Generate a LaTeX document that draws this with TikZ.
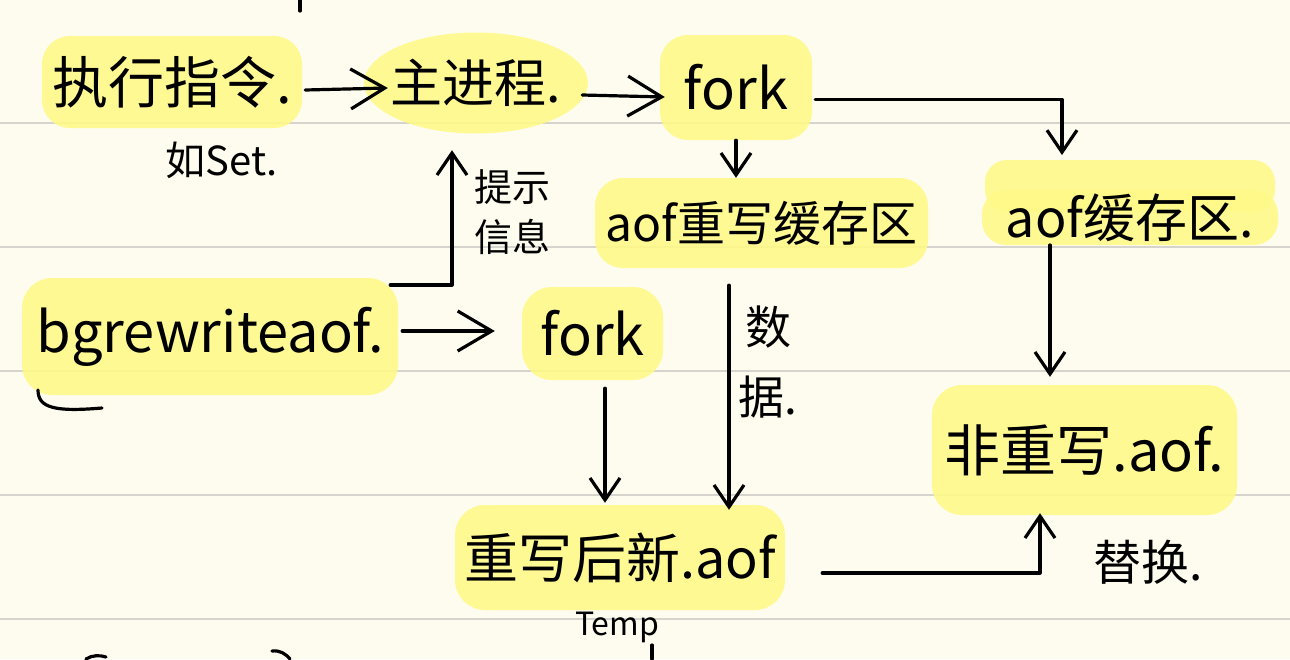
\documentclass[tikz,border=0pt]{standalone}
\usepackage{fontspec}
\setmainfont{Noto Sans CJK SC}
\usetikzlibrary{arrows.meta,shapes.geometric}
\definecolor{paper}{RGB}{254,252,239}
\definecolor{rulecol}{RGB}{214,212,204}
\definecolor{hl}{RGB}{255,249,135}
\begin{document}
\begin{tikzpicture}[x=1pt,y=-1pt,
  box/.style={fill=hl, fill opacity=0.88, text opacity=1, rounded corners=28pt, inner sep=0pt},
  lbl/.style={inner sep=0pt, align=center},
  conn/.style={line width=3.2pt, line cap=round, line join=round},
  big/.style={conn, -{Straight Barb[length=34pt,width=40pt]}},
  small/.style={conn, -{Straight Barb[length=22pt,width=30pt]}},
  ruled/.style={rulecol, line width=2pt},
  stroke/.style={line width=3.2pt, line cap=round}
]
\fill[paper] (0,0) rectangle (1290,659);
\useasboundingbox (0,0) rectangle (1290,659);
\foreach \yy in {123,247,371,495,619} \draw[ruled] (0,\yy) -- (1290,\yy);

% extra upper highlight band of the aof buffer
\fill[hl, fill opacity=0.88, rounded corners=22pt] (985,160) rectangle (1275,212);

% nodes
\node[box, minimum width=260pt, minimum height=92pt, font=\fontsize{56}{66}\selectfont] (exec) at (172,82) {执行指令.};
\node[box, ellipse, inner xsep=-15pt, minimum width=224pt, minimum height=101pt, font=\fontsize{52}{62}\selectfont] (main) at (476,83) {主进程.};
\node[box, minimum width=152pt, minimum height=105pt, font=\fontsize{56}{66}\selectfont] (fork1) at (736,87.5) {fork};
\node[box, minimum width=333pt, minimum height=90pt, font=\fontsize{48}{58}\selectfont] (rwbuf) at (761.5,223) {aof重写缓存区};
\node[box, rounded corners=24pt, minimum width=296pt, minimum height=55pt, font=\fontsize{52}{62}\selectfont] (aofbuf) at (1130,217.5) {aof缓存区.};
\node[box, rounded corners=30pt, minimum width=376pt, minimum height=117pt, font=\fontsize{56}{66}\selectfont] (bgrw) at (210,336.5) {bgrewriteaof.};
\node[box, rounded corners=30pt, minimum width=141pt, minimum height=93pt, font=\fontsize{56}{66}\selectfont] (fork2) at (592.5,333.5) {fork};
\node[box, rounded corners=30pt, minimum width=305pt, minimum height=130pt, font=\fontsize{56}{66}\selectfont] (fei) at (1084.5,450) {非重写.aof.};
\node[box, rounded corners=30pt, minimum width=330pt, minimum height=105pt, font=\fontsize{54}{64}\selectfont] (newaof) at (620,557.5) {重写后新.aof};

% labels
\node[lbl, font=\fontsize{40}{48}\selectfont] (set) at (222,160) {如Set.};
\node[lbl, font=\fontsize{38}{50}\selectfont] (hint) at (512,212) {提示\\信息};
\node[lbl, font=\fontsize{46}{70}\selectfont] (data) at (768,362) {数\\据.};
\node[lbl, font=\fontsize{48}{58}\selectfont] (repl) at (1148,562) {替换.};
\node[lbl, font=\fontsize{32}{40}\selectfont] (temp) at (617,627) {Temp};

% connectors
\draw[big] ([shift={(3,8)}]exec.east) -- ([shift={(24,5)}]main.west);
\draw[big] ([shift={(-6,12)}]main.east) -- ([shift={(5,9.5)}]fork1.west);
\draw[small] ([shift={(3,12)}]fork1.east) -| ([shift={(-68,-62.5)}]aofbuf.center);
\draw[small] (fork1.south) -- (fork1.south |- rwbuf.north);
\draw[small] ([shift={(-80,27.5)}]aofbuf.center) -- ([shift={(-34.5,-8)}]fei.north);
\draw[small] ([shift={(-8,-51.5)}]bgrw.east) -| ([shift={(-24,16.5)}]main.south);
\draw[big] ([shift={(4,-5.5)}]bgrw.east) -- ([shift={(-27,-2.5)}]fork2.west);
\draw[small] ([shift={(12.5,8)}]fork2.south) -- ([shift={(-15,-2)}]newaof.north);
\draw[small] ([shift={(-32.5,17)}]rwbuf.south) -- ([shift={(109,5)}]newaof.north);
\draw[small] ([shift={(37,15.5)}]newaof.east) -| ([shift={(-44.5,-2)}]fei.south);

% stray pen strokes at the page edges
\draw[stroke] (300,0) -- (300,11);
\draw[stroke] (652,645) -- (652,659);
\draw[stroke] (86,659) .. controls (92,655) and (100,655) .. (106,657);
\draw[stroke] (272,651) .. controls (280,650) and (286,654) .. (290,659);
\draw[stroke] (38,390) .. controls (38,408) and (55,412) .. (102,408);
\end{tikzpicture}
\end{document}
